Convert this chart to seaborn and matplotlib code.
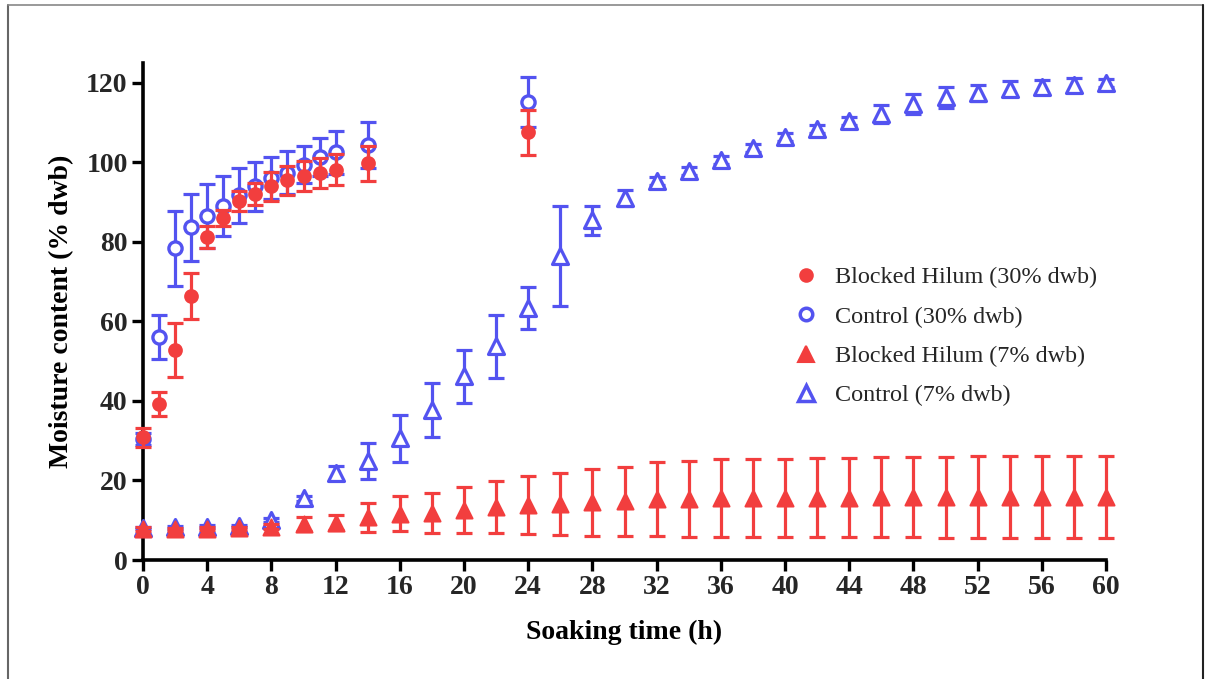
import numpy as np
import pandas as pd
import seaborn as sns
import matplotlib.pyplot as plt
from matplotlib.lines import Line2D

# ---------------- data ----------------
t30 = [0, 1, 2, 3, 4, 5, 6, 7, 8, 9, 10, 11, 12, 14, 24]
bh30 = [30.9, 39.3, 52.8, 66.4, 81.2, 86.0, 90.3, 92.1, 94.0, 95.5, 96.5, 97.3, 98.2, 99.8, 107.6]
bh30_sd = [2.4, 3.0, 6.8, 5.8, 2.7, 2.0, 2.5, 2.7, 3.6, 3.6, 3.8, 3.8, 4.0, 4.4, 5.7]
ct30 = [30.5, 56.1, 78.4, 83.7, 86.5, 89.0, 91.7, 94.0, 96.1, 97.4, 99.4, 101.3, 102.5, 104.3, 115.1]
ct30_sd = [1.5, 5.5, 9.4, 8.4, 8.1, 7.6, 6.9, 6.2, 5.2, 5.4, 4.6, 4.8, 5.5, 5.8, 6.3]

t7 = list(range(0, 61, 2))
bh7 = [7.8, 7.7, 7.9, 8.0, 8.4, 9.1, 9.4, 10.7, 11.6, 11.9, 12.6, 13.3, 13.8, 14.1, 14.5, 14.8,
       15.3, 15.4, 15.5, 15.5, 15.7, 15.7, 15.7, 15.8, 15.8, 15.8, 15.8, 15.9, 15.9, 15.9, 15.9]
bh7_sd = [0.4, 0.3, 0.3, 0.4, 0.6, 1.7, 1.9, 3.7, 4.4, 5.0, 5.8, 6.5, 7.3, 7.7, 8.4, 8.7,
          9.3, 9.6, 9.8, 9.8, 9.8, 10.0, 10.0, 10.0, 10.0, 10.2, 10.3, 10.3, 10.3, 10.3, 10.3]
ct7 = [8.0, 8.2, 8.4, 8.6, 10.1, 15.5, 21.8, 24.9, 30.6, 37.7, 46.2, 53.7, 63.3, 76.5, 85.4, 91.0,
       95.4, 97.8, 100.7, 103.7, 106.5, 108.3, 110.5, 112.2, 114.6, 116.4, 117.4, 118.5, 119.0, 119.5, 120.0]
ct7_sd = [0.3, 0.3, 0.3, 0.3, 0.5, 0.6, 1.8, 4.6, 5.9, 6.7, 6.6, 8.0, 5.3, 12.5, 3.7, 2.0,
          1.0, 1.0, 1.0, 1.0, 1.0, 1.0, 1.0, 2.3, 2.5, 2.6, 2.0, 1.9, 1.7, 1.7, 1.0]

labels = ["Blocked Hilum (30% dwb)", "Control (30% dwb)",
          "Blocked Hilum (7% dwb)", "Control (7% dwb)"]
x_ticks = list(range(0, 61, 4))
y_ticks = list(range(0, 121, 20))

RED = "#F23E3E"
BLUE = "#5353F0"

# ---------------- style ----------------
sns.set_theme(style="ticks")
plt.rcParams["font.family"] = ["Liberation Serif", "DejaVu Serif"]

fig = plt.figure(figsize=(12.05, 6.79), dpi=100)
ax = fig.add_axes([143 / 1205, 1 - 560 / 679, (1106 - 143) / 1205, (560 - 63) / 679])

series = [
    (t7, ct7, ct7_sd, BLUE, "^", "white", 11.5, 2.3),
    (t30, ct30, ct30_sd, BLUE, "o", "white", 9.5, 2.4),
    (t7, bh7, bh7_sd, RED, "^", RED, 11.5, 1.5),
    (t30, bh30, bh30_sd, RED, "o", RED, 9.4, 1.2),
]

for i, (x, y, e, c, m, fc, ms, lw) in enumerate(series):
    ax.errorbar(x, y, yerr=e, fmt="none", ecolor=c, elinewidth=2.3,
                capsize=5.5, capthick=2.3, zorder=3 + 2 * i, clip_on=False)
    df = pd.DataFrame({"t": x, "v": y})
    sns.scatterplot(data=df, x="t", y="v", ax=ax, marker=m, s=ms ** 2,
                    facecolor=fc, edgecolor=c, linewidth=lw,
                    zorder=4 + 2 * i, clip_on=False, legend=False)

ax.set_xlim(0, 60)
ax.set_ylim(0, 125)
ax.set_xticks(x_ticks)
ax.set_yticks(y_ticks)
sns.despine(ax=ax)
for s in ["left", "bottom"]:
    ax.spines[s].set_linewidth(2.6)
    ax.spines[s].set_color("black")
ax.tick_params(axis="both", direction="out", length=8, width=2.4, color="black",
               labelsize=20, pad=3)
for lab in ax.get_xticklabels() + ax.get_yticklabels():
    lab.set_fontweight("bold")

ax.set_xlabel("Soaking time (h)", fontsize=20, fontweight="bold", labelpad=14, color="black")
ax.set_ylabel("Moisture content (% dwb)", fontsize=20, fontweight="bold", labelpad=9, color="black")

# legend
handles = [
    Line2D([], [], linestyle="none", marker="o", markersize=9, markerfacecolor=RED,
           markeredgecolor=RED, markeredgewidth=1.5),
    Line2D([], [], linestyle="none", marker="o", markersize=9, markerfacecolor="white",
           markeredgecolor=BLUE, markeredgewidth=2.5),
    Line2D([], [], linestyle="none", marker="^", markersize=11, markerfacecolor=RED,
           markeredgecolor=RED, markeredgewidth=1.5),
    Line2D([], [], linestyle="none", marker="^", markersize=11, markerfacecolor="white",
           markeredgecolor=BLUE, markeredgewidth=2.5),
]
ax.legend(handles, labels, loc="center left", bbox_to_anchor=(0.676, 0.450),
          frameon=False, fontsize=17.4, handlelength=1.0, handletextpad=0.7,
          labelspacing=0.72, borderpad=0, borderaxespad=0)

# outer frame (open at the bottom)
fig.add_artist(Line2D([8 / 1205, 8 / 1205], [0, 1 - 5 / 679], transform=fig.transFigure,
                      color="#666666", lw=1.5))
fig.add_artist(Line2D([8 / 1205, 1202.5 / 1205], [1 - 5 / 679, 1 - 5 / 679],
                      transform=fig.transFigure, color="#888888", lw=1.2))
fig.add_artist(Line2D([1202.5 / 1205, 1202.5 / 1205], [0, 1 - 5 / 679],
                      transform=fig.transFigure, color="#222222", lw=1.5))

fig.savefig("out.png", dpi=100)
